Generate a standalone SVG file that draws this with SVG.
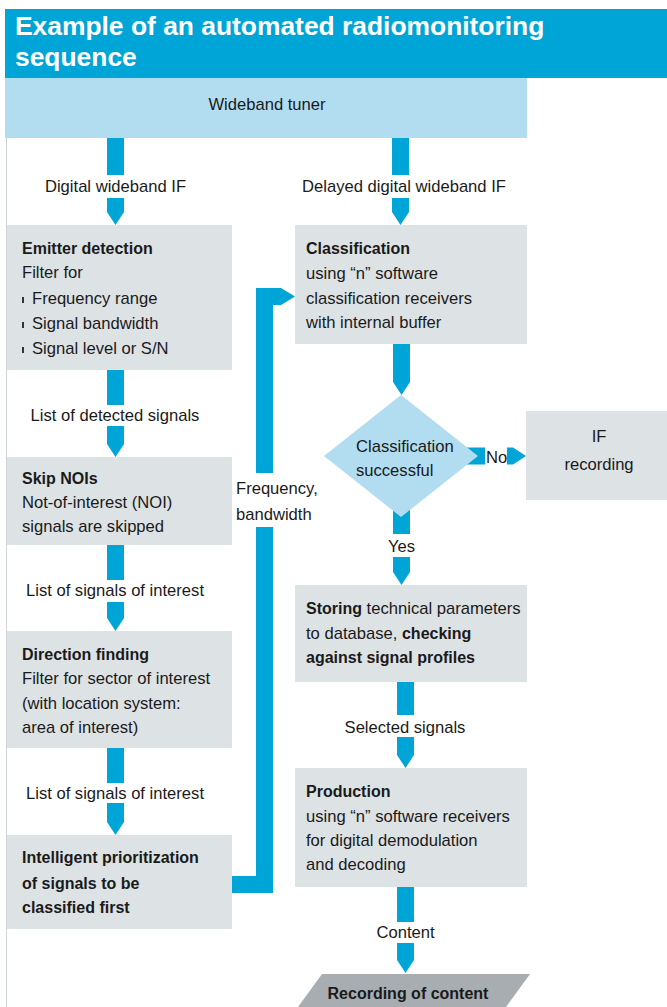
<svg xmlns="http://www.w3.org/2000/svg" width="667" height="1007" viewBox="0 0 667 1007">
<style>
text{font-family:"Liberation Sans",Arial,sans-serif;font-size:16.6px;fill:#1a1a1a}
.b{font-weight:bold;font-size:16px}
.c{text-anchor:middle}
.title{font-size:26.4px;font-weight:bold;fill:#ffffff}
.box{fill:#dde2e5}
.lb{fill:#b2ddf1}
.ar{fill:#00a5d8}
.bul{fill:#333}
</style>
<rect x="0" y="0" width="667" height="1007" fill="#ffffff"/>
<line x1="6.5" y1="78" x2="6.5" y2="1007" stroke="#cfd4d7" stroke-width="1"/>
<g id="header">
<rect x="5" y="9" width="662" height="69" fill="#00a5d8"/>
<text class="title" x="15" y="35">Example of an automated radiomonitoring</text>
<text class="title" x="15" y="66">sequence</text>
</g>
<g id="tuner">
<rect class="lb" x="5" y="78" width="522" height="60"/>
<text class="c" x="267" y="110">Wideband tuner</text>
</g>
<g id="connectors">
<rect class="ar" x="107" y="138" width="17" height="37"/>
<polygon class="ar" points="107,198 124,198 124,212 115.5,225 107,212"/>
<text class="c" x="115.5" y="192">Digital wideband IF</text>
<rect class="ar" x="392" y="138" width="17" height="37"/>
<polygon class="ar" points="392,198 409,198 409,212 400.5,225 392,212"/>
<text class="c" x="404" y="192">Delayed digital wideband IF</text>
<rect class="ar" x="107" y="370" width="17" height="35"/>
<polygon class="ar" points="107,426 124,426 124,444 115.5,457 107,444"/>
<text class="c" x="115" y="421">List of detected signals</text>
<rect class="ar" x="107" y="545" width="17" height="35"/>
<polygon class="ar" points="107,602 124,602 124,618 115.5,631 107,618"/>
<text class="c" x="115" y="596">List of signals of interest</text>
<rect class="ar" x="107" y="748" width="17" height="35"/>
<polygon class="ar" points="107,803 124,803 124,822 115.5,835 107,822"/>
<text class="c" x="115" y="799">List of signals of interest</text>
<polygon class="ar" points="256,473 256,288 281,288 295,296.5 281,305 273,305 273,473"/>
<polygon class="ar" points="256,527 273,527 273,893 232,893 232,876 256,876"/>
<text x="236" y="494">Frequency,</text>
<text x="236" y="520">bandwidth</text>
<polygon class="ar" points="393,344 410,344 410,382 401.5,395 393,382"/>
<rect class="ar" x="462" y="447.5" width="23" height="17"/>
<text x="486" y="463">No</text>
<polygon class="ar" points="507,447.5 513,447.5 526,456 513,464.5 507,464.5"/>
<rect class="ar" x="393" y="500" width="17" height="34"/>
<polygon class="ar" points="393,557 410,557 410,572 401.5,585 393,572"/>
<text class="c" x="401.5" y="552">Yes</text>
<rect class="ar" x="397" y="682" width="17" height="33"/>
<polygon class="ar" points="397,737 414,737 414,755 405.5,768 397,755"/>
<text class="c" x="405" y="733">Selected signals</text>
<rect class="ar" x="397" y="887" width="17" height="35"/>
<polygon class="ar" points="397,943 414,943 414,960 405.5,973 397,960"/>
<text class="c" x="405.5" y="938">Content</text>
</g>
<g id="emitter">
<rect class="box" x="7" y="225" width="225" height="145"/>
<text class="b" x="22" y="254">Emitter detection</text>
<text x="22" y="278">Filter for</text>
<rect class="bul" x="22" y="297" width="2" height="6"/>
<text x="32" y="304">Frequency range</text>
<rect class="bul" x="22" y="322" width="2" height="6"/>
<text x="32" y="329">Signal bandwidth</text>
<rect class="bul" x="22" y="347" width="2" height="6"/>
<text x="32" y="354">Signal level or S/N</text>
</g>
<g id="skip">
<rect class="box" x="7" y="457" width="225" height="88"/>
<text class="b" x="22" y="484">Skip NOIs</text>
<text x="22" y="508">Not-of-interest (NOI)</text>
<text x="22" y="532">signals are skipped</text>
</g>
<g id="df">
<rect class="box" x="7" y="631" width="225" height="117"/>
<text class="b" x="22" y="660">Direction finding</text>
<text x="22" y="684">Filter for sector of interest</text>
<text x="22" y="709">(with location system:</text>
<text x="22" y="733">area of interest)</text>
</g>
<g id="prio">
<rect class="box" x="7" y="835" width="225" height="94"/>
<text class="b" x="22" y="863">Intelligent prioritization</text>
<text class="b" x="22" y="889">of signals to be</text>
<text class="b" x="22" y="913">classified first</text>
</g>
<g id="classification">
<rect class="box" x="295" y="225" width="232" height="119"/>
<text class="b" x="306" y="254">Classification</text>
<text x="306" y="279">using “n” software</text>
<text x="306" y="304">classification receivers</text>
<text x="306" y="328">with internal buffer</text>
</g>
<g id="decision">
<polygon class="lb" points="401,395 478,456 401,517 324,456"/>
<text x="356" y="452">Classification</text>
<text x="356" y="476">successful</text>
</g>
<g id="ifrec">
<rect class="box" x="526" y="411" width="141" height="89"/>
<text class="c" x="599" y="442">IF</text>
<text class="c" x="599" y="470">recording</text>
</g>
<g id="storing">
<rect class="box" x="295" y="585" width="232" height="97"/>
<text x="306" y="614"><tspan class="b">Storing</tspan> technical parameters</text>
<text x="306" y="639">to database, <tspan class="b">checking</tspan></text>
<text class="b" x="306" y="663">against signal profiles</text>
</g>
<g id="production">
<rect class="box" x="295" y="768" width="232" height="119"/>
<text class="b" x="306" y="797">Production</text>
<text x="306" y="822">using “n” software receivers</text>
<text x="306" y="846">for digital demodulation</text>
<text x="306" y="870">and decoding</text>
</g>
<g id="recording">
<polygon points="322,974 530,974 506,1007 298,1007" fill="#a8adb1"/>
<text class="b c" x="408" y="999">Recording of content</text>
</g>
</svg>
